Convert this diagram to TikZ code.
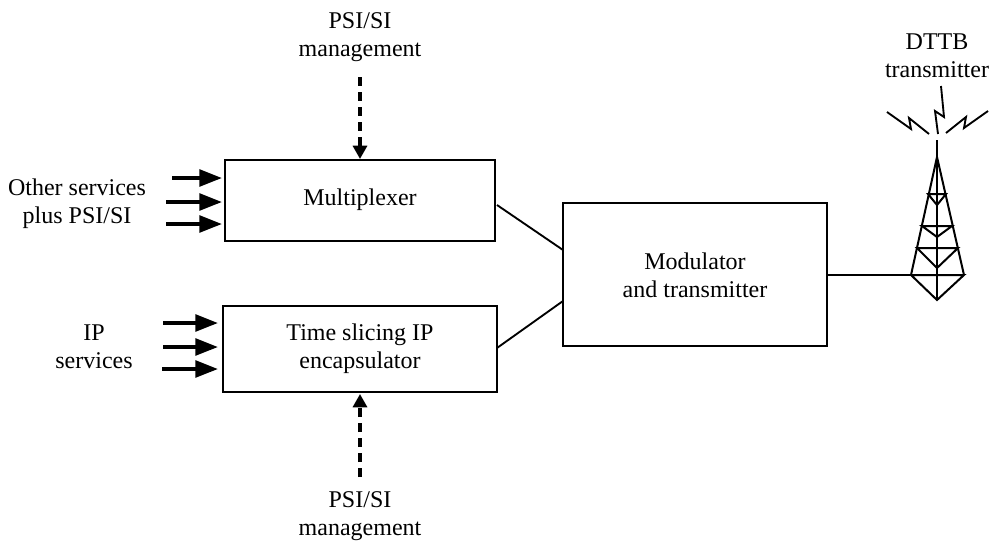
\documentclass[tikz,border=0pt]{standalone}
\usepackage{fontspec}
\setmainfont{Liberation Serif}
\usetikzlibrary{arrows.meta}
\tikzset{
 px/.style={x=0.75pt,y=-0.75pt},
 blockbox/.style={draw=black,line width=1.4pt,fill=white,inner sep=0pt},
 lbl/.style={font=\fontsize{18pt}{21pt}\selectfont,align=center,inner sep=0pt,anchor=center},
 link/.style={draw=black,line width=1.4pt},
 thick arrow/.style={draw=black,line width=2.8pt,-{Triangle[length=17pt,width=12.5pt]},shorten >=0pt},
 dash arrow/.style={draw=black,line width=2.4pt,dash pattern=on 6.75pt off 4.5pt,-{Triangle[length=10pt,width=10.5pt]}},
 tower/.style={draw=black,line width=1.5pt,line join=miter},
 bolt/.style={draw=black,line width=1.4pt}
}
\begin{document}
\begin{tikzpicture}[px]
\useasboundingbox (0,0) rectangle (989,543);
\path[blockbox] (225,160) rectangle (495,241);
\node[lbl] (mux) at (360,200) {Multiplexer};
\path[blockbox] (223,306) rectangle (497,392);
\node[lbl] (enc) at (360,349) {Time slicing IP\\encapsulator};
\path[blockbox] (563,203) rectangle (827,346);
\node[lbl] (mod) at (695,275) {Modulator\\and transmitter};
\node[lbl] (psitop) at (360,37) {PSI/SI\\management};
\node[lbl] (psibot) at (360,516) {PSI/SI\\management};
\node[lbl] (other) at (77,204) {Other services\\plus PSI/SI};
\node[lbl] (ip) at (94,347) {IP\\services};
\node[lbl] (dttb) at (937,56) {DTTB\\transmitter};
\coordinate (muxE) at (497,205); \coordinate (modNW) at (563,250);
\coordinate (encE) at (497,348); \coordinate (modSW) at (563,301);
\coordinate (modE) at (827,275); \coordinate (towerL) at (911,275);
\draw[link] (muxE) -- (modNW);
\draw[link] (encE) -- (modSW);
\draw[link] (modE) -- (towerL);
\coordinate (t1) at (360,77); \coordinate (t2) at (360,159);
\coordinate (b1) at (360,477); \coordinate (b2) at (360,394);
\draw[dash arrow] (t1) -- (t2);
\draw[dash arrow] (b1) -- (b2);
\foreach \n/\xa/\xb/\yy in {a/172/222/178,b/166/222/202,c/166/222/224,d/163/218/323,e/163/218/347,f/162/218/369}{
 \coordinate (\n1) at (\xa,\yy); \coordinate (\n2) at (\xb,\yy);
 \draw[thick arrow] (\n1) -- (\n2);
}
% tower
\draw[tower] (937,140) -- (937,300);
\draw[tower] (911,275) -- (937,157) -- (964,275);
\draw[tower] (911,275) -- (964,275) -- (937,300) -- cycle;
\draw[tower] (917,248) -- (958,248) -- (937,268) -- cycle;
\draw[tower] (922,226) -- (952,226) -- (937,237) -- cycle;
\draw[tower] (928,194) -- (946,194) -- (937,205) -- cycle;
\draw[bolt] (941,86) -- (944,117) -- (935,111) -- (938,134);
\draw[bolt] (887,112) -- (911,129) -- (909,118) -- (929,134);
\draw[bolt] (988,111) -- (964,128) -- (966,117) -- (946,133);
\end{tikzpicture}
\end{document}
